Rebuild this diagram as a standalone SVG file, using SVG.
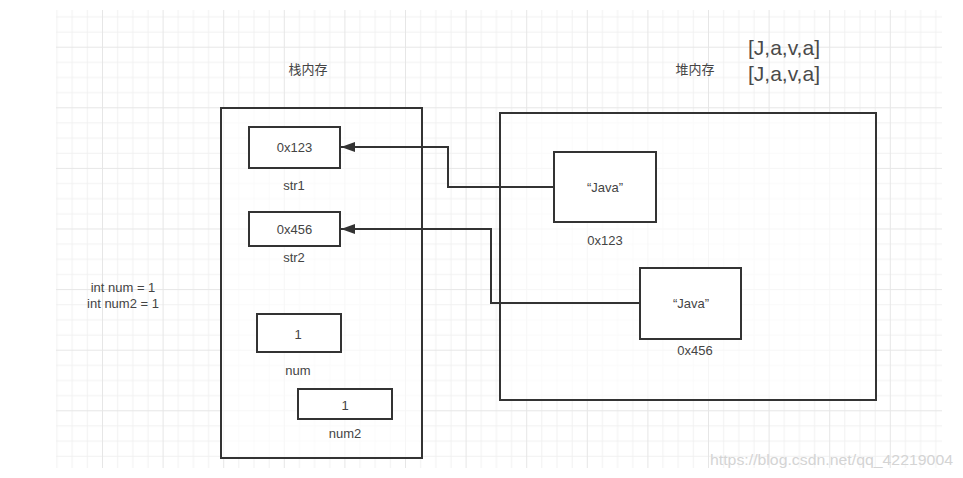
<svg xmlns="http://www.w3.org/2000/svg" width="963" height="478" viewBox="0 0 963 478">
<style>
.box{fill:#fff;stroke:#333;stroke-width:2}
.big{fill:#fff;fill-opacity:0.65;stroke:#333;stroke-width:2}
.t{font-family:"Liberation Sans",Arial,sans-serif;font-size:13px;fill:#444;text-anchor:middle;dominant-baseline:central}
.cjk{font-family:"Liberation Sans","Noto Sans CJK SC",sans-serif;font-size:13px;fill:#444;text-anchor:middle;dominant-baseline:central}
.arr{font-family:"Liberation Sans",Arial,sans-serif;font-size:21px;fill:#4a4a4a;text-anchor:middle;dominant-baseline:central}
.wm{font-family:"Liberation Sans",Arial,sans-serif;font-size:15px;fill:#d4d4d4}
.conn{fill:none;stroke:#333;stroke-width:2}
</style>
<defs>
<pattern id="grid" patternUnits="userSpaceOnUse" x="41.4" y="107.3" width="60.6" height="60.6">
<path d="M15.65 0V60.6M30.8 0V60.6M45.95 0V60.6M0 15.65H60.6M0 30.8H60.6M0 45.95H60.6" stroke="#f1f1f1" stroke-width="1" fill="none"/>
<path d="M0.5 0V60.6M0 0.5H60.6" stroke="#e6e6e6" stroke-width="1" fill="none"/>
</pattern>
<marker id="ah" viewBox="0 0 14 10" refX="14" refY="5" markerWidth="14" markerHeight="10" markerUnits="userSpaceOnUse" orient="auto">
<path d="M0 0L14 5L0 10Z" fill="#333"/>
</marker>
</defs>
<rect width="963" height="478" fill="#fff"/>
<rect x="56" y="10" width="886" height="458" fill="url(#grid)"/>
<g id="labels">
<text class="cjk" x="308" y="69">栈内存</text>
<text class="cjk" x="695" y="69">堆内存</text>
<text class="arr" x="784" y="47">[J,a,v,a]</text>
<text class="arr" x="784" y="73">[J,a,v,a]</text>
<text class="t" x="123" y="287">int num = 1</text>
<text class="t" x="123" y="303">int num2 = 1</text>
</g>
<g id="stack">
<rect class="big" x="221" y="108" width="201" height="350"/>
</g>
<g id="heap">
<rect class="big" x="500" y="113" width="376" height="287"/>
</g>
<g id="str1">
<rect class="box" x="249" y="127" width="91" height="41"/>
<text class="t" x="294.5" y="147">0x123</text>
<text class="t" x="294" y="185">str1</text>
</g>
<g id="str2">
<rect class="box" x="249" y="212" width="91" height="34"/>
<text class="t" x="294.5" y="229">0x456</text>
<text class="t" x="294" y="257">str2</text>
</g>
<g id="num">
<rect class="box" x="257" y="314" width="84" height="38"/>
<text class="t" x="298" y="334">1</text>
<text class="t" x="298" y="370">num</text>
</g>
<g id="num2">
<rect class="box" x="298" y="389" width="94" height="30"/>
<text class="t" x="345" y="405">1</text>
<text class="t" x="345" y="433">num2</text>
</g>
<g id="java1">
<rect class="box" x="554" y="152" width="102" height="70"/>
<text class="t" x="605" y="187">“Java”</text>
<text class="t" x="605" y="240">0x123</text>
</g>
<g id="java2">
<rect class="box" x="640" y="268" width="101" height="71"/>
<text class="t" x="691" y="303">“Java”</text>
<text class="t" x="695" y="350">0x456</text>
</g>
<g id="connectors">
<path class="conn" d="M554 187H448V147H341" marker-end="url(#ah)"/>
<path class="conn" d="M640 303H491V229H341" marker-end="url(#ah)"/>
</g>
<text class="wm" x="710" y="465" textLength="243" lengthAdjust="spacingAndGlyphs">https://blog.csdn.net/qq_42219004</text>
</svg>
